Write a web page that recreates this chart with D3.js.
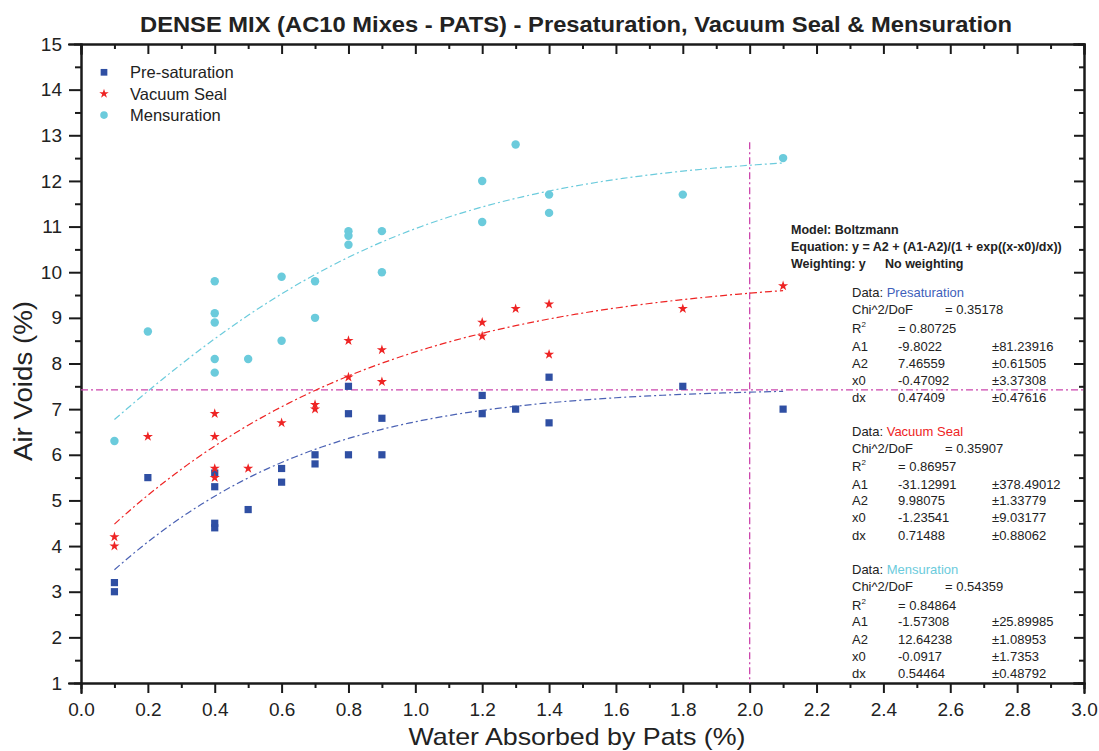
<!DOCTYPE html>
<html>
<head>
<meta charset="utf-8">
<script src="https://cdn.jsdelivr.net/npm/d3@7/dist/d3.min.js"></script>
<style>
  body { margin: 0; background: #fff; }
  svg { display: block; font-family: "Liberation Sans", Arial, sans-serif; }
  .axis path, .axis line { stroke: #1a1a1a; stroke-width: 2; }
  .axis text { font-size: 19px; fill: #222; font-family: "Liberation Sans", Arial, sans-serif; }
</style>
</head>
<body>
<svg id="chart" width="1099" height="751"></svg>
<script>

  // data
  var presatX = [0.1, 0.1, 0.2, 0.4, 0.4, 0.4, 0.4, 0.5, 0.6, 0.6, 0.7, 0.7, 0.8, 0.8, 0.8, 0.9, 0.9, 1.2, 1.2, 1.3, 1.4, 1.4, 1.8, 2.1];
  var presatY = [3.0, 3.2, 5.5, 4.4, 4.5, 5.3, 5.6, 4.8, 5.7, 5.4, 6.0, 5.8, 6.0, 6.9, 7.5, 6.0, 6.8, 7.3, 6.9, 7.0, 7.7, 6.7, 7.5, 7.0];

  var vacX = [0.1, 0.1, 0.2, 0.4, 0.4, 0.4, 0.4, 0.5, 0.6, 0.7, 0.7, 0.8, 0.8, 0.9, 0.9, 1.2, 1.2, 1.3, 1.4, 1.4, 1.8, 2.1];
  var vacY = [4.2, 4.0, 6.4, 6.9, 6.4, 5.7, 5.5, 5.7, 6.7, 7.1, 7.0, 8.5, 7.7, 8.3, 7.6, 8.9, 8.6, 9.2, 9.3, 8.2, 9.2, 9.7];

  var mensX = [0.1, 0.2, 0.4, 0.4, 0.4, 0.4, 0.4, 0.5, 0.6, 0.6, 0.7, 0.7, 0.8, 0.8, 0.8, 0.9, 0.9, 1.2, 1.2, 1.3, 1.4, 1.4, 1.8, 2.1];
  var mensY = [6.3, 8.7, 9.8, 9.1, 8.9, 8.1, 7.8, 8.1, 9.9, 8.5, 9.8, 9.0, 10.9, 10.8, 10.6, 10.9, 10.0, 12.0, 11.1, 12.8, 11.7, 11.3, 11.7, 12.5];

  // Boltzmann fit params: [A1, A2, x0, dx]
  var presatFit = [-9.8022, 7.46559, -0.47092, 0.47409];
  var vacFit = [-31.12991, 9.98075, -1.23541, 0.71488];
  var mensFit = [-1.57308, 12.64238, -0.0917, 0.54464];
  var fitRange = [0.1, 2.1];

  // stats table rows: label, value, error
  var presatStats = [["Chi^2/DoF", "= 0.35178"], ["R2", "=  0.80725"], ["A1", "-9.8022", "\u00b181.23916"], ["A2", "7.46559", "\u00b10.61505"], ["x0", "-0.47092", "\u00b13.37308"], ["dx", "0.47409", "\u00b10.47616"]];
  var vacStats = [["Chi^2/DoF", "= 0.35907"], ["R2", "=  0.86957"], ["A1", "-31.12991", "\u00b1378.49012"], ["A2", "9.98075", "\u00b11.33779"], ["x0", "-1.23541", "\u00b19.03177"], ["dx", "0.71488", "\u00b10.88062"]];
  var mensStats = [["Chi^2/DoF", "= 0.54359"], ["R2", "=  0.84864"], ["A1", "-1.57308", "\u00b125.89985"], ["A2", "12.64238", "\u00b11.08953"], ["x0", "-0.0917", "\u00b11.7353"], ["dx", "0.54464", "\u00b10.48792"]];

  // crosshair position
  var crossX = 2.0, crossY = 7.42, crossTop = 12.85;

  var xTicks = d3.range(0, 3.001, 0.2);
  var xMinor = d3.range(0.1, 3, 0.2);
  var yTicks = d3.range(1, 16, 1);
  var yMinor = d3.range(1.5, 15, 1);

  var colors = {
    presat: "#2f4fa3",
    presatLine: "#4b62b4",
    vac: "#ee2424",
    mens: "#6bcbdc",
    cross: "#cc46ad"
  };

  var svg = d3.select("#chart");
  var margin = {left: 81, right: 15, top: 44, bottom: 68};
  var width = 1099 - margin.left - margin.right,
      height = 751 - margin.top - margin.bottom;

  var x = d3.scaleLinear().domain([0, 3]).range([margin.left, margin.left + width]);
  var y = d3.scaleLinear().domain([1, 15]).range([margin.top + height, margin.top]);

  var boltz = function(p, v) {
    return p[1] + (p[0] - p[1]) / (1 + Math.exp((v - p[2]) / p[3]));
  };

  // axes (bottom/left ticks outward, top/right inward)
  var fmt1 = d3.format(".1f");
  svg.append("g").attr("class", "axis").attr("transform", "translate(0," + y(1) + ")")
    .call(d3.axisBottom(x).tickValues(xTicks).tickSize(10).tickPadding(10).tickFormat(fmt1));
  svg.append("g").attr("class", "axis").attr("transform", "translate(0," + y(1) + ")")
    .call(d3.axisBottom(x).tickValues(xMinor).tickSize(5).tickFormat(""));
  svg.append("g").attr("class", "axis").attr("transform", "translate(0," + y(15) + ")")
    .call(d3.axisTop(x).tickValues(xTicks).tickSize(-10).tickFormat(""));
  svg.append("g").attr("class", "axis").attr("transform", "translate(0," + y(15) + ")")
    .call(d3.axisTop(x).tickValues(xMinor).tickSize(-5).tickFormat(""));

  svg.append("g").attr("class", "axis").attr("transform", "translate(" + x(0) + ",0)")
    .call(d3.axisLeft(y).tickValues(yTicks).tickSize(12).tickPadding(7).tickFormat(d3.format("d")));
  svg.append("g").attr("class", "axis").attr("transform", "translate(" + x(0) + ",0)")
    .call(d3.axisLeft(y).tickValues(yMinor).tickSize(6).tickFormat(""));
  svg.append("g").attr("class", "axis").attr("transform", "translate(" + x(3) + ",0)")
    .call(d3.axisRight(y).tickValues(yTicks).tickSize(-10).tickFormat(""));
  svg.append("g").attr("class", "axis").attr("transform", "translate(" + x(3) + ",0)")
    .call(d3.axisRight(y).tickValues(yMinor).tickSize(-5).tickFormat(""));

  svg.selectAll(".axis path").attr("stroke-linecap", "square");

  // crosshair
  svg.append("line")
    .attr("x1", x(0)).attr("x2", x(3)).attr("y1", y(crossY)).attr("y2", y(crossY))
    .attr("stroke", colors.cross).attr("stroke-width", 1.3).attr("stroke-dasharray", "7,3,2,3");
  svg.append("line")
    .attr("x1", x(crossX)).attr("x2", x(crossX)).attr("y1", y(crossTop)).attr("y2", y(1))
    .attr("stroke", colors.cross).attr("stroke-width", 1.3).attr("stroke-dasharray", "7,3,2,3");

  // fit curves
  var line = d3.line().x(function(d) { return x(d[0]); }).y(function(d) { return y(d[1]); });
  var fitCurve = function(p) {
    return d3.range(fitRange[0], fitRange[1] + 0.0001, 0.02).map(function(v) { return [v, boltz(p, v)]; });
  };
  [[presatFit, colors.presatLine], [vacFit, colors.vac], [mensFit, colors.mens]].forEach(function(f) {
    svg.append("path")
      .attr("d", line(fitCurve(f[0])))
      .attr("fill", "none")
      .attr("stroke", f[1])
      .attr("stroke-width", 1.2)
      .attr("stroke-dasharray", "7,3,2,3");
  });

  // points
  var drawSeries = function(xs, ys, symbol, size, color) {
    svg.append("g").selectAll("path").data(xs).enter().append("path")
      .attr("transform", function(d, i) { return "translate(" + x(d) + "," + y(ys[i]) + ")"; })
      .attr("d", d3.symbol().type(symbol).size(size))
      .attr("fill", color);
  };
  drawSeries(presatX, presatY, d3.symbolSquare, 52, colors.presat);
  drawSeries(vacX, vacY, d3.symbolStar, 32, colors.vac);
  drawSeries(mensX, mensY, d3.symbolCircle, 56, colors.mens);

  // legend
  var legendItems = [["Pre-saturation", d3.symbolSquare, 45, colors.presat],
                     ["Vacuum Seal", d3.symbolStar, 28, colors.vac],
                     ["Mensuration", d3.symbolCircle, 45, colors.mens]];
  legendItems.forEach(function(d, i) {
    var cy = 72.3 + i * 21.4;
    svg.append("path").attr("transform", "translate(104," + cy + ")")
      .attr("d", d3.symbol().type(d[1]).size(d[2])).attr("fill", d[3]);
    svg.append("text").attr("x", 130).attr("y", cy + 6)
      .attr("font-size", "16.5px").attr("fill", "#222").text(d[0]);
  });

  // title and axis labels
  svg.append("text").attr("x", 576).attr("y", 31.5).attr("text-anchor", "middle")
    .attr("font-size", "22px").attr("font-weight", "bold").attr("fill", "#222")
    .attr("textLength", 872).attr("lengthAdjust", "spacingAndGlyphs")
    .text("DENSE MIX (AC10 Mixes - PATS) - Presaturation, Vacuum Seal & Mensuration");
  svg.append("text").attr("x", 577).attr("y", 745).attr("text-anchor", "middle")
    .attr("font-size", "24px").attr("fill", "#222")
    .attr("textLength", 337).attr("lengthAdjust", "spacingAndGlyphs")
    .text("Water Absorbed by Pats (%)");
  svg.append("text").attr("transform", "translate(32,381) rotate(-90)").attr("text-anchor", "middle")
    .attr("font-size", "25px").attr("fill", "#222")
    .attr("textLength", 160).attr("lengthAdjust", "spacingAndGlyphs")
    .text("Air Voids (%)");

  // fit model info
  var info = svg.append("g").attr("font-size", "12.5px").attr("font-weight", "bold").attr("fill", "#222");
  info.append("text").attr("x", 791).attr("y", 234).text("Model: Boltzmann");
  info.append("text").attr("x", 791).attr("y", 251).text("Equation: y = A2 + (A1-A2)/(1 + exp((x-x0)/dx))");
  info.append("text").attr("x", 791).attr("y", 268).text("Weighting: y");
  info.append("text").attr("x", 885).attr("y", 268).text("No weighting");

  var drawStats = function(name, color, rows, rowY) {
    var g = svg.append("g").attr("font-size", "13px").attr("fill", "#222");
    var t = g.append("text").attr("x", 852).attr("y", rowY[0]);
    t.append("tspan").text("Data: ");
    t.append("tspan").attr("fill", color).text(name);
    rows.forEach(function(r, i) {
      var yy = rowY[i + 1];
      if (i === 0) {
        g.append("text").attr("x", 852).attr("y", yy).text(r[0]);
        g.append("text").attr("x", 945).attr("y", yy).text(r[1]);
        return;
      }
      var lab = g.append("text").attr("x", 852).attr("y", yy);
      if (r[0] === "R2") {
        lab.append("tspan").text("R");
        lab.append("tspan").attr("font-size", "8px").attr("dy", -6).text("2");
      } else {
        lab.text(r[0]);
      }
      g.append("text").attr("x", 898).attr("y", yy).text(r[1]);
      if (r[2]) g.append("text").attr("x", 992).attr("y", yy).text(r[2]);
    });
  };
  drawStats("Presaturation", "#3f5fbb", presatStats, [297, 314, 333, 350.5, 368, 385, 402]);
  drawStats("Vacuum Seal", "#ee2424", vacStats, [436, 452.5, 471, 488.5, 505, 521.5, 539.5]);
  drawStats("Mensuration", colors.mens, mensStats, [573.5, 590.5, 609.5, 626, 643.5, 661, 677.5]);

</script>
</body>
</html>
